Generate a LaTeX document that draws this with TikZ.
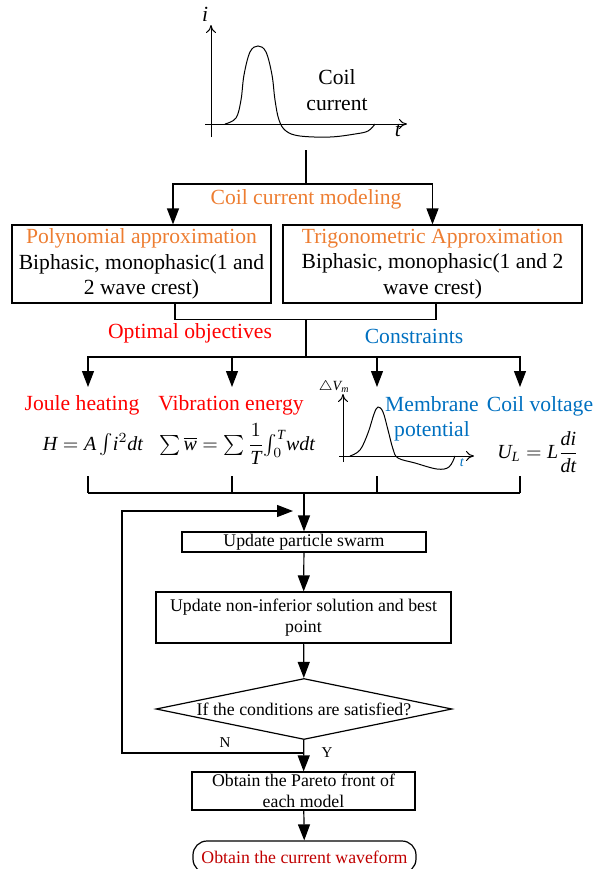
\documentclass[tikz,border=0pt]{standalone}
\usepackage{fontspec}
\setmainfont{Liberation Serif}
\usetikzlibrary{arrows.meta}
\usetikzlibrary{shapes.geometric}
\definecolor{modelorange}{RGB}{237,125,49}
\definecolor{objred}{RGB}{255,0,0}
\definecolor{consblue}{RGB}{0,112,192}
\definecolor{endred}{RGB}{192,0,0}

\begin{document}
\begin{tikzpicture}[x=0.5pt, y=-0.5pt, line width=0.6pt, inner sep=1pt,
    big/.style={font=\fontsize{10.8}{12.7}\selectfont},
    small/.style={font=\fontsize{8.9}{10.5}\selectfont},
    formula/.style={font=\fontsize{10}{12}\selectfont},
    model box/.style={draw, big, align=center, inner sep=0pt, minimum height=39pt},
    flow box/.style={draw, small, align=center, inner sep=0pt},
    flow arrow/.style={-{Triangle[length=8pt,width=6pt]}},
    axis arrow/.style={-{To[length=4pt,width=5pt]}, line width=0.5pt}]
\useasboundingbox (0,0) rectangle (593,869);

% coil current sketch
\draw[axis arrow] (211,137) -- (211,25);
\draw[axis arrow] (205,124) -- (407,124);
\node[big] (ilabel) at (205,14) {\textit{i}};
\node[big] (tlabel) at (398,131) {\textit{t}};
\draw[line width=0.5pt] plot[smooth, tension=0.6] coordinates {(225,124) (236,118) (241,100)
    (244,75) (250,52) (258,46) (266,52) (272,75) (275,100) (279,120) (286,131)
    (300,136) (330,137) (355,134) (368,131) (375,124)};
\node[big, align=center] (coil) at (337,90) {Coil\\current};

% current models
\coordinate (top) at (306,150);
\coordinate (split) at (306,184);
\draw (top) -- (split);
\node[big, text=modelorange] (modeling) at (306,199) {Coil current modeling};
\node[model box, minimum width=129.5pt] (poly) at (141.5,264)
    {\textcolor{modelorange}{Polynomial approximation}\\Biphasic, monophasic(1 and\\2 wave crest)};
\node[model box, minimum width=149.5pt] (trig) at (432.5,264)
    {\textcolor{modelorange}{Trigonometric Approximation}\\Biphasic, monophasic(1 and 2\\wave crest)};
\draw[flow arrow] (split) -| ([xshift=15.75pt]poly.north);
\draw[flow arrow] (split) -| (trig.north);
\draw ([xshift=16.75pt]poly.south) -- ++(0,16) -| ([xshift=1.75pt]trig.south);

% objectives and constraints
\coordinate (merge) at (306,319);
\coordinate (fork) at (306,357);
\draw (merge) -- (fork);
\node[big, text=objred] (objectives) at (190,333) {Optimal objectives};
\node[big, text=consblue] (constraints) at (414,336) {Constraints};
\foreach \x/\n in {88/joule, 232/vib, 377/memb, 520/volt} {
    \coordinate (in\n) at (\x,387);
    \draw[flow arrow] (fork) -| (in\n);
    \draw (\x,476) -- (\x,493);
}
\node[big, text=objred] (joule) at (82,405) {Joule heating};
\node[big, text=objred] (vib) at (231,405) {Vibration energy};
\node[big, text=consblue, align=center] (memb) at (432,419) {Membrane\\potential};
\node[big, text=consblue] (volt) at (540,406) {Coil voltage};
\node[formula] (heat) at (93,445) {$\mathit{H}=\mathit{A}\int\!\mathit{i}^2\mathit{dt}$};
\node[formula] (energy) at (237,444)
    {$\sum\overline{\mathit{w}}=\sum\displaystyle\frac{1}{\mathit{T}}{\textstyle\int_0^{\mathit{T}}}\mathit{wdt}$};
\node[formula] (voltage) at (538,452) {$\mathit{U_L}=\mathit{L}\displaystyle\frac{\mathit{di}}{\mathit{dt}}$};

% membrane potential sketch
\draw[axis arrow] (343,462) -- (343,394);
\draw[axis arrow] (339,456) -- (474,456);
\node[font=\fontsize{7}{8}\selectfont] (vm) at (334,387) {$\triangle\mathit{V_m}$};
\node[font=\fontsize{7}{8}\selectfont, text=consblue] (tm) at (462,463) {\textit{t}};
\draw[line width=0.5pt] plot[smooth, tension=0.6] coordinates {(350,456) (360,450) (368,433)
    (374,414) (378,407) (383,412) (388,430) (393,449) (398,458) (415,463)
    (437,469) (449,467) (455,456)};

% optimisation loop
\coordinate (gather) at (304,493);
\draw (88,493) -- (520,493);
\node[flow box, minimum width=122pt, minimum height=10pt] (swarm) at (304,542) {Update particle swarm};
\node[flow box, minimum width=147.5pt, minimum height=25.5pt] (best) at (303.5,617.5)
    {Update non-inferior solution and best\\point};
\node[draw, small, shape=diamond, aspect=4.85, inner sep=0pt, minimum width=148pt,
    minimum height=30.5pt] (check) at (304,709) {If the conditions are satisfied?};
\node[flow box, minimum width=111.5pt, minimum height=19pt] (pareto) at (303.5,791)
    {Obtain the Pareto front of\\each model};
\node[draw, small, rounded corners=7pt, inner sep=0pt, minimum width=111.5pt,
    minimum height=16pt, text=endred] (wave) at (304.5,857) {Obtain the current waveform};
\draw[flow arrow] (gather) -- (swarm);
\draw[flow arrow] (swarm) -- (best);
\draw[flow arrow] (best) -- (check);
\draw[flow arrow] (check) -- (pareto);
\draw[flow arrow] (pareto) -- (wave);
\coordinate (ybranch) at (304,753);
\coordinate (nturn) at (122,753);
\coordinate (loopin) at (293,511);
\draw[flow arrow] (ybranch) -- (nturn) |- (loopin);
\node[font=\fontsize{7.5}{9}\selectfont] (no) at (225,743) {N};
\node[font=\fontsize{7.5}{9}\selectfont] (yes) at (327,753) {Y};
\end{tikzpicture}
\end{document}
